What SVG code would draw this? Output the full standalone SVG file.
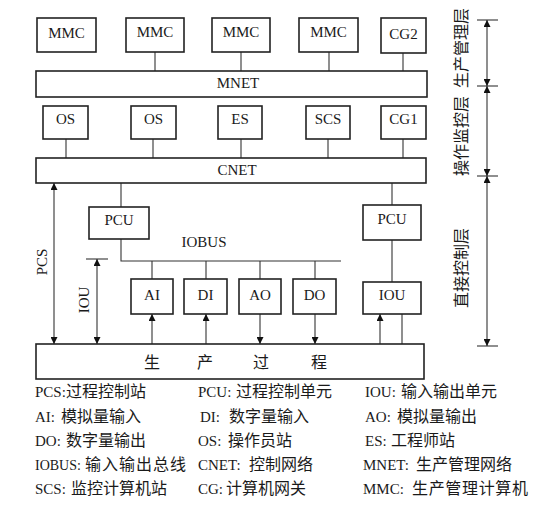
<svg xmlns="http://www.w3.org/2000/svg" width="538" height="505" viewBox="0 0 538 505">
<defs>
<style>
.box{fill:#fff;stroke:#222;stroke-width:1.6}
.bar{fill:#fff;stroke:#222;stroke-width:1.6}
.ln{fill:none;stroke:#333;stroke-width:1.1}
.arr{fill:none;stroke:#333;stroke-width:1.1}
.t{font-family:"Liberation Serif","Noto Sans CJK SC",serif;font-size:15px;fill:#1a1a1a;text-anchor:middle}
.cj{font-family:"Liberation Serif","Noto Sans CJK SC",serif;font-size:16px;fill:#1a1a1a;text-anchor:middle}
.lg{font-family:"Liberation Serif","Noto Sans CJK SC",serif;font-size:15px;fill:#1a1a1a}
.lg .c{font-size:16px}
</style>
<marker id="ah" viewBox="0 0 10 10" refX="10" refY="5" markerWidth="7" markerHeight="7" markerUnits="userSpaceOnUse" orient="auto-start-reverse">
<path d="M0,0 L10,5 L0,10 z" fill="#111"/>
</marker>
</defs>
<rect width="538" height="505" fill="#fff"/>

<g id="connectors">
<line class="ln" x1="155" y1="52" x2="155" y2="71"/>
<line class="ln" x1="241" y1="52" x2="241" y2="71"/>
<line class="ln" x1="329" y1="52" x2="329" y2="71"/>
<line class="ln" x1="403" y1="53" x2="403" y2="71"/>
<line class="ln" x1="66" y1="139" x2="66" y2="158"/>
<line class="ln" x1="153" y1="139" x2="153" y2="158"/>
<line class="ln" x1="241" y1="139" x2="241" y2="158"/>
<line class="ln" x1="328" y1="139" x2="328" y2="158"/>
<line class="ln" x1="403" y1="139" x2="403" y2="158"/>
<line class="ln" x1="121" y1="183" x2="121" y2="207"/>
<polyline class="ln" points="121,239 121,261 341,261"/>
<line class="ln" x1="152" y1="261" x2="152" y2="279"/>
<line class="ln" x1="206" y1="261" x2="206" y2="279"/>
<line class="ln" x1="260" y1="261" x2="260" y2="279"/>
<line class="ln" x1="315" y1="261" x2="315" y2="279"/>
<line class="ln" x1="392" y1="183" x2="392" y2="205"/>
<line class="ln" x1="392" y1="240" x2="392" y2="282"/>
<line class="arr" x1="152" y1="344" x2="152" y2="314" marker-end="url(#ah)"/>
<line class="arr" x1="206" y1="344" x2="206" y2="314" marker-end="url(#ah)"/>
<line class="arr" x1="260" y1="314" x2="260" y2="344" marker-end="url(#ah)"/>
<line class="arr" x1="315" y1="314" x2="315" y2="344" marker-end="url(#ah)"/>
<line class="arr" x1="380" y1="344" x2="380" y2="314" marker-end="url(#ah)"/>
<line class="ln" x1="402" y1="314" x2="402" y2="344"/>
<line class="arr" x1="54" y1="183" x2="54" y2="344" marker-start="url(#ah)" marker-end="url(#ah)"/>
<line class="ln" x1="86" y1="259" x2="108" y2="259"/>
<line class="arr" x1="97" y1="259" x2="97" y2="344" marker-start="url(#ah)" marker-end="url(#ah)"/>
<line class="ln" x1="477" y1="20" x2="498" y2="20"/>
<line class="ln" x1="477" y1="86" x2="498" y2="86"/>
<line class="ln" x1="477" y1="176" x2="498" y2="176"/>
<line class="ln" x1="477" y1="346" x2="498" y2="346"/>
<line class="arr" x1="487" y1="20" x2="487" y2="86" marker-start="url(#ah)" marker-end="url(#ah)"/>
<line class="arr" x1="487" y1="86" x2="487" y2="176" marker-start="url(#ah)" marker-end="url(#ah)"/>
<line class="arr" x1="487" y1="176" x2="487" y2="346" marker-start="url(#ah)" marker-end="url(#ah)"/>
</g>

<g id="mmc1"><rect class="box" x="37" y="18" width="59" height="34"/><text class="t" x="66.5" y="38">MMC</text></g>
<g id="mmc2"><rect class="box" x="126" y="18" width="58" height="34"/><text class="t" x="155" y="37">MMC</text></g>
<g id="mmc3"><rect class="box" x="212" y="18" width="58" height="34"/><text class="t" x="241" y="37">MMC</text></g>
<g id="mmc4"><rect class="box" x="299" y="18" width="59" height="34"/><text class="t" x="328.5" y="37">MMC</text></g>
<g id="cg2"><rect class="box" x="381" y="18" width="45" height="35"/><text class="t" x="403.5" y="39">CG2</text></g>
<g id="mnet"><rect class="bar" x="36" y="71" width="391" height="26"/><text class="t" x="238" y="88">MNET</text></g>

<g id="os1"><rect class="box" x="43" y="106" width="45" height="33"/><text class="t" x="65.5" y="124">OS</text></g>
<g id="os2"><rect class="box" x="131" y="106" width="45" height="33"/><text class="t" x="153.5" y="124">OS</text></g>
<g id="es"><rect class="box" x="218" y="106" width="44" height="33"/><text class="t" x="240" y="124">ES</text></g>
<g id="scs"><rect class="box" x="306" y="106" width="44" height="33"/><text class="t" x="328" y="124">SCS</text></g>
<g id="cg1"><rect class="box" x="381" y="106" width="45" height="33"/><text class="t" x="403.5" y="124">CG1</text></g>
<g id="cnet"><rect class="bar" x="36" y="158" width="390" height="25"/><text class="t" x="237" y="175">CNET</text></g>

<g id="pcu1"><rect class="box" x="89" y="207" width="60" height="32"/><text class="t" x="119" y="225">PCU</text></g>
<g id="pcu2"><rect class="box" x="363" y="205" width="58" height="35"/><text class="t" x="392" y="224">PCU</text></g>
<g id="iobus"><text class="t" x="204" y="247">IOBUS</text></g>
<g id="ai"><rect class="box" x="131" y="279" width="42" height="35"/><text class="t" x="152" y="300">AI</text></g>
<g id="di"><rect class="box" x="184" y="279" width="43" height="35"/><text class="t" x="205.5" y="300">DI</text></g>
<g id="ao"><rect class="box" x="239" y="279" width="42" height="35"/><text class="t" x="260" y="300">AO</text></g>
<g id="do"><rect class="box" x="293" y="279" width="43" height="35"/><text class="t" x="314.5" y="300">DO</text></g>
<g id="iou"><rect class="box" x="363" y="282" width="58" height="32"/><text class="t" x="392" y="300">IOU</text></g>

<g id="process"><rect class="bar" x="36" y="344" width="388" height="35"/>
<text class="cj" x="152" y="368">生</text><text class="cj" x="205" y="368">产</text><text class="cj" x="261" y="368">过</text><text class="cj" x="319" y="368">程</text></g>

<g id="pcs-label"><text class="t" transform="translate(47,262) rotate(-90)">PCS</text></g>
<g id="iou-label"><text class="t" transform="translate(89,300) rotate(-90)">IOU</text></g>
<g id="layer-labels">
<text class="cj" transform="translate(467,48) rotate(-90)">生产管理层</text>
<text class="cj" transform="translate(467,136) rotate(-90)">操作监控层</text>
<text class="cj" transform="translate(467,268) rotate(-90)">直接控制层</text>
</g>

<g id="legend">
<text class="lg" x="35" y="397">PCS:<tspan class="c" x="66">过程控制站</tspan></text>
<text class="lg" x="198" y="397">PCU:<tspan class="c" x="236">过程控制单元</tspan></text>
<text class="lg" x="365" y="397">IOU: <tspan class="c" x="401">输入输出单元</tspan></text>
<text class="lg" x="35" y="422">AI: <tspan class="c" x="61">模拟量输入</tspan></text>
<text class="lg" x="200" y="422">DI: <tspan class="c" x="229">数字量输入</tspan></text>
<text class="lg" x="365" y="422">AO: <tspan class="c" x="397">模拟量输出</tspan></text>
<text class="lg" x="35" y="446">DO: <tspan class="c" x="66">数字量输出</tspan></text>
<text class="lg" x="198" y="446">OS: <tspan class="c" x="228">操作员站</tspan></text>
<text class="lg" x="365" y="446">ES: <tspan class="c" x="391">工程师站</tspan></text>
<text class="lg" x="35" y="470" style="font-size:14px">IOBUS: <tspan class="c" x="85" textLength="101">输入输出总线</tspan></text>
<text class="lg" x="198" y="470">CNET: <tspan class="c" x="249">控制网络</tspan></text>
<text class="lg" x="363" y="470">MNET: <tspan class="c" x="416">生产管理网络</tspan></text>
<text class="lg" x="35" y="494">SCS: <tspan class="c" x="71">监控计算机站</tspan></text>
<text class="lg" x="198" y="494">CG: <tspan class="c" x="226">计算机网关</tspan></text>
<text class="lg" x="363" y="494">MMC: <tspan class="c" x="412" textLength="116">生产管理计算机</tspan></text>
</g>
</svg>
